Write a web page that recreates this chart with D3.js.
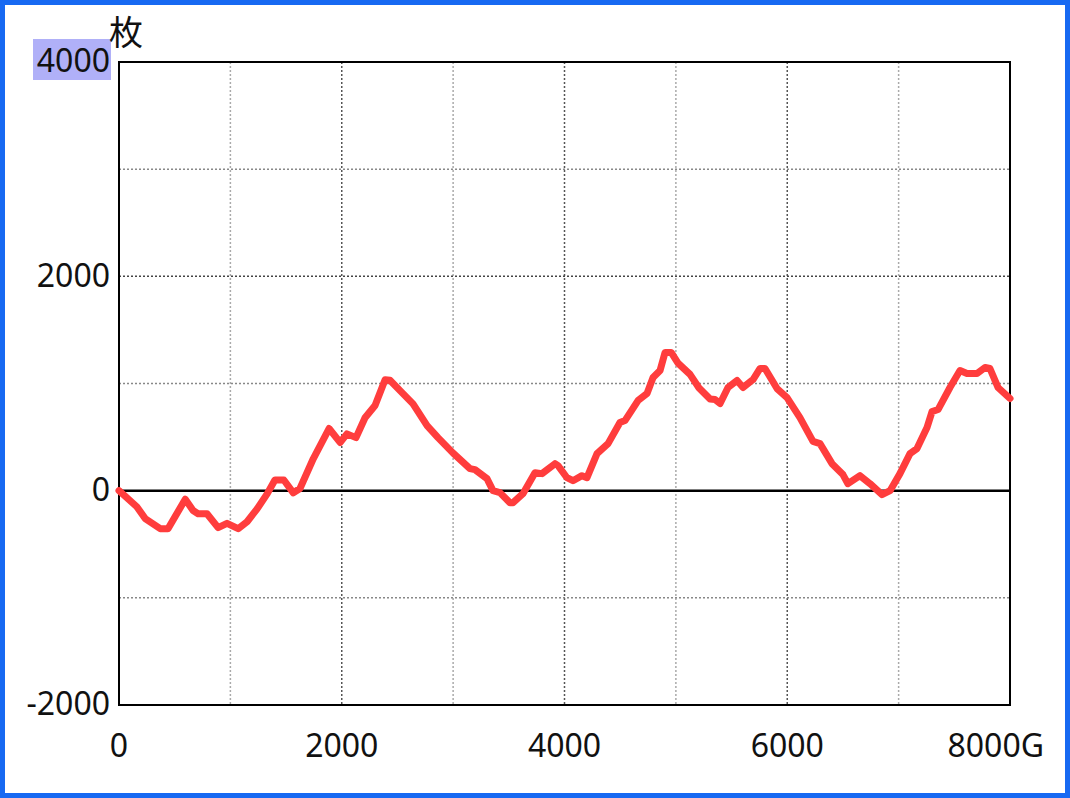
<!DOCTYPE html>
<html>
<head>
<meta charset="utf-8">
<script src="https://cdn.jsdelivr.net/npm/d3@7"></script>
<style>
  html, body { margin: 0; padding: 0; background: #fff; }
  #main { width: 1070px; height: 798px; box-sizing: border-box; border: 5px solid #1769f2; background: #fff; }
  svg { display: block; font-family: "Noto Sans", "Noto Sans CJK JP", sans-serif; }
</style>
</head>
<body>
<div id="main"></div>
<script>
// games played (G) and cumulative medals (枚)
const games = [0, 160, 235, 370, 440, 595, 665, 710, 790, 890, 970, 1070, 1150, 1240, 1330, 1400, 1480, 1565, 1625, 1745,
  1886, 1985, 2047, 2128, 2209, 2299, 2389, 2433, 2541, 2640, 2766, 2864, 3000, 3151, 3196, 3304, 3358, 3420, 3510, 3538,
  3627, 3735, 3798, 3915, 3942, 4022, 4076, 4157, 4202, 4292, 4391, 4498, 4543, 4660, 4741, 4795, 4858, 4903, 4958, 5019,
  5127, 5208, 5307, 5351, 5397, 5468, 5549, 5603, 5693, 5756, 5800, 5908, 5998, 6114, 6231, 6294, 6402, 6500, 6545, 6653,
  6743, 6851, 6923, 7012, 7102, 7165, 7255, 7300, 7354, 7461, 7551, 7614, 7704, 7776, 7820, 7892, 8000];
const medals = [0, -150, -260, -355, -355, -80, -185, -215, -215, -345, -305, -355, -290, -170, -30, 100, 100, -20, 20, 300,
  580, 450, 530, 495, 680, 795, 1035, 1030, 915, 810, 607, 495, 350, 206, 196, 112, 0, -18, -112, -112,
  -28, 168, 159, 252, 234, 121, 93, 140, 121, 346, 439, 636, 654, 841, 907, 1056, 1121, 1290, 1290, 1190,
  1085, 958, 855, 850, 813, 963, 1028, 963, 1037, 1140, 1140, 953, 869, 682, 460, 439, 252, 150, 65, 140,
  65, -37, 0, 159, 346, 393, 589, 738, 757, 963, 1121, 1093, 1093, 1150, 1140, 963, 860];
const xTicks = [0, 2000, 4000, 6000, 8000];
const yTicks = [-2000, 0, 2000, 4000];
const xGrid = [1000, 2000, 3000, 4000, 5000, 6000, 7000];
const yGrid = [-1000, 1000, 2000, 3000];

const W = 1060, H = 788;
const PL = 114, PR = 1005, PT = 57, PB = 700;

const x = d3.scaleLinear().domain([0, 8000]).range([PL, PR]);
const y = d3.scaleLinear().domain([-2000, 4000]).range([PB, PT]);

const svg = d3.select('#main').append('svg').attr('width', W).attr('height', H);

// grid
svg.append('g').selectAll('line').data(xGrid).enter().append('line')
  .attr('x1', d => x(d)).attr('x2', d => x(d)).attr('y1', PT).attr('y2', PB)
  .attr('stroke', d => d % 2000 === 0 ? '#555' : '#aaa')
  .attr('stroke-width', 1.5).attr('stroke-dasharray', '2,2');
svg.append('g').selectAll('line').data(yGrid).enter().append('line')
  .attr('x1', PL).attr('x2', PR).attr('y1', d => y(d)).attr('y2', d => y(d))
  .attr('stroke', d => d % 2000 === 0 ? '#444' : '#888')
  .attr('stroke-width', 1.5).attr('stroke-dasharray', '2,2');

// zero line
svg.append('line').attr('x1', PL).attr('x2', PR).attr('y1', y(0)).attr('y2', y(0))
  .attr('stroke', '#000').attr('stroke-width', 2.5);

// frame
svg.append('rect').attr('x', PL).attr('y', PT).attr('width', PR - PL).attr('height', PB - PT)
  .attr('fill', 'none').attr('stroke', '#000').attr('stroke-width', 2);

// data line
const pts = games.map((g, i) => [g, medals[i]]);
svg.append('path').datum(pts)
  .attr('d', d3.line().x(d => x(d[0])).y(d => y(d[1])))
  .attr('fill', 'none').attr('stroke', '#ff3d3d').attr('stroke-width', 7)
  .attr('stroke-linejoin', 'round').attr('stroke-linecap', 'round');

// y labels
const yl = svg.append('g');
const hl = yTicks[yTicks.length - 1];
yl.append('rect').attr('x', 28).attr('y', y(hl) - 23).attr('width', 78).attr('height', 41).attr('fill', '#b0b0f8');
yl.selectAll('text').data(yTicks).enter().append('text')
  .attr('x', PL - 9).attr('y', d => y(d)).attr('dy', '0.32em')
  .attr('text-anchor', 'end').attr('font-size', 32).attr('fill', '#111')
  .text(d => d);
svg.append('text').attr('x', 104).attr('y', 40).attr('font-size', 34).attr('fill', '#111').text('枚');

// x labels
svg.append('g').selectAll('text').data(xTicks).enter().append('text')
  .attr('x', (d, i) => i === xTicks.length - 1 ? x(d) + 34 : x(d))
  .attr('y', PB + 52)
  .attr('text-anchor', (d, i) => i === xTicks.length - 1 ? 'end' : 'middle')
  .attr('font-size', 32).attr('fill', '#111')
  .text((d, i) => i === xTicks.length - 1 ? d + 'G' : d);
</script>
</body>
</html>
